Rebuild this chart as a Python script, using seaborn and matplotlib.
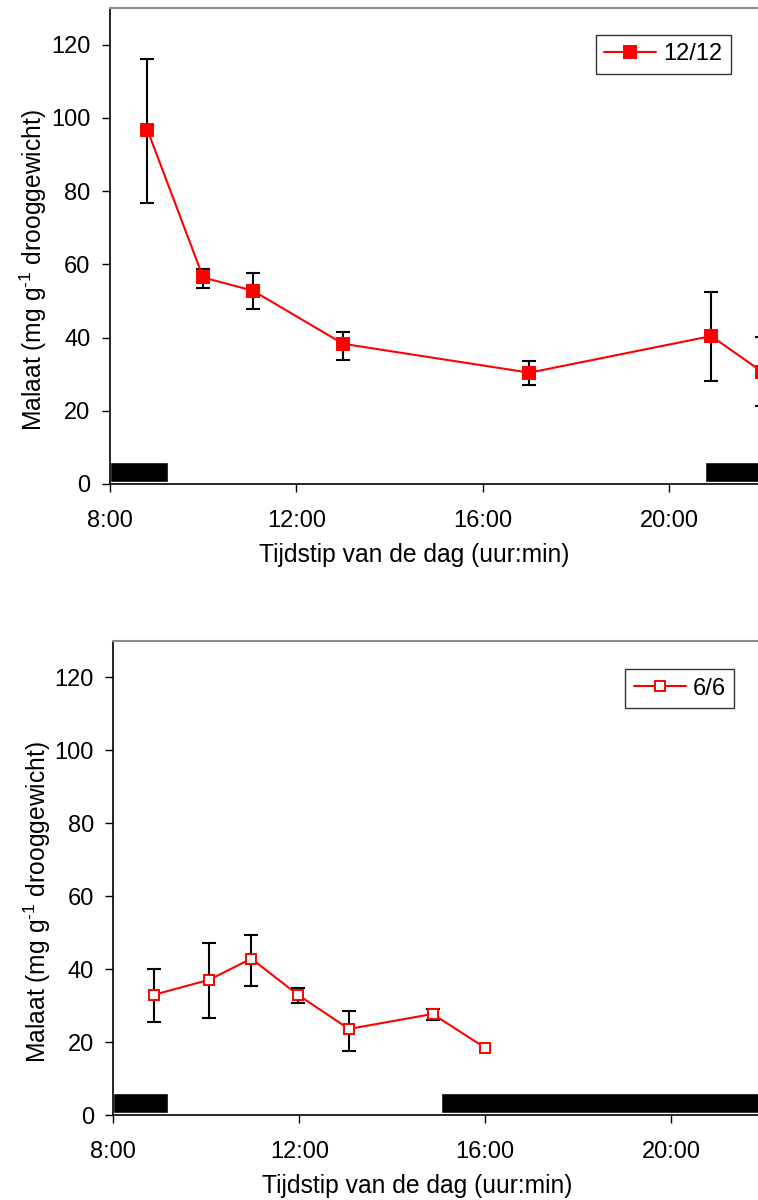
import matplotlib
matplotlib.use("Agg")
import matplotlib.pyplot as plt
import seaborn as sns
import pandas as pd
import numpy as np

# ---- data ----
top_times = ["8:48", "10:00", "11:04", "13:00", "17:00", "20:54", "22:00"]
top_vals = [96.8, 56.4, 52.8, 38.3, 30.4, 40.4, 30.6]
top_err_low = [76.8, 53.5, 47.8, 33.8, 27.0, 28.1, 21.3]
top_err_high = [116.2, 58.8, 57.7, 41.6, 33.6, 52.4, 40.2]
top_night = [("8:00", "9:15"), ("20:46", "22:30")]
top_label = "12/12"

bot_times = ["8:53", "10:04", "10:58", "11:58", "13:04", "14:52", "16:00"]
bot_vals = [33.0, 37.1, 42.9, 33.0, 23.6, 27.7, 18.4]
bot_err_low = [25.4, 26.5, 35.3, 30.6, 17.6, 26.1, None]
bot_err_high = [40.0, 47.3, 49.4, 34.8, 28.6, 29.1, None]
bot_night = [("8:00", "9:11"), ("15:03", "22:30")]
bot_label = "6/6"

xtick_labels = ["8:00", "12:00", "16:00", "20:00"]
yticks = [0, 20, 40, 60, 80, 100, 120]


def to_h(s):
    h, m = s.split(":")
    return int(h) + int(m) / 60.0


sns.set_style("ticks")
plt.rcParams["font.family"] = ["Liberation Sans", "DejaVu Sans"]
plt.rcParams["mathtext.fontset"] = "custom"
plt.rcParams["mathtext.rm"] = "Liberation Sans"
for k in ["text.color", "axes.labelcolor", "xtick.color", "ytick.color"]:
    plt.rcParams[k] = "black"
FS = 17
LFS = 17.7

fig = plt.figure(figsize=(7.58, 12.0), dpi=100)
ax1 = fig.add_axes([110 / 758, 1 - 484 / 1200, 648 / 758, 476 / 1200])
ax2 = fig.add_axes([113.3 / 758, 1 - 1115 / 1200, 644.7 / 758, 474 / 1200])


def draw(ax, times, vals, lo, hi, night, label, filled, xright, leg_anchor):
    x = [to_h(t) for t in times]
    df = pd.DataFrame({"t": x, "v": vals, "s": label})
    # night bars
    for a, b in night:
        ax.bar(to_h(a), 5.6, width=to_h(b) - to_h(a), bottom=0.5, align="edge",
               color="black", zorder=2, clip_on=True)
    ex, ev, el, eh = [], [], [], []
    for xi, v, l, h in zip(x, vals, lo, hi):
        if l is not None and h is not None:
            ex.append(xi); ev.append(v); el.append(v - l); eh.append(h - v)
    ax.errorbar(ex, ev, yerr=[el, eh], fmt="none", ecolor="black", elinewidth=1.5,
                capsize=5, capthick=1.5, zorder=3)
    sns.lineplot(data=df, x="t", y="v", hue="s", palette=["red"], ax=ax,
                 marker="s", markersize=8 if filled else 7.5,
                 markerfacecolor="red" if filled else "white",
                 markeredgecolor="red", markeredgewidth=1.4,
                 linewidth=1.5, zorder=4, clip_on=True)
    ax.set_xlim(8, xright)
    ax.set_ylim(0, 130)
    ax.set_xticks([to_h(t) for t in xtick_labels])
    ax.set_xticklabels(xtick_labels, fontsize=FS)
    ax.set_yticks(yticks)
    ax.set_yticklabels([str(v) for v in yticks], fontsize=FS)
    ax.tick_params(direction="out", length=6, width=1, color="black", labelcolor="black")
    ax.tick_params(axis="x", pad=13)
    ax.tick_params(axis="y", pad=8)
    ax.set_xlabel("Tijdstip van de dag (uur:min)", fontsize=LFS, color="black")
    ax.set_ylabel("Malaat (mg g$^{\\text{-1}}$ drooggewicht)", fontsize=LFS, color="black")
    ax.yaxis.set_label_coords(-0.094, 0.45)
    for s in ["left", "bottom"]:
        ax.spines[s].set_color("black")
        ax.spines[s].set_linewidth(1.2)
    ax.spines["top"].set_color("#8c8c8c")
    ax.spines["top"].set_linewidth(1.5)
    ax.spines["right"].set_visible(False)
    leg = ax.legend(loc="upper right", bbox_to_anchor=leg_anchor, borderaxespad=0,
                    fontsize=FS, frameon=True, fancybox=False, handlelength=2.2,
                    handletextpad=0.3, borderpad=0.35)
    leg.get_frame().set_edgecolor("black")
    leg.get_frame().set_linewidth(1.0)
    for t in leg.get_texts():
        t.set_color("black")
    ax.set_facecolor("white")


draw(ax1, top_times, top_vals, top_err_low, top_err_high, top_night, top_label,
     True, 8 + 648 / 46.6, (0.958, 0.943))
draw(ax2, bot_times, bot_vals, bot_err_low, bot_err_high, bot_night, bot_label,
     False, 8 + 644.7 / 46.5, (0.963, 0.940))

# x-label placement
ax1.xaxis.set_label_coords(0.469, -59 / 476)
ax2.xaxis.set_label_coords(0.471, -59 / 474)

fig.savefig("out.png", dpi=100, facecolor="white")
